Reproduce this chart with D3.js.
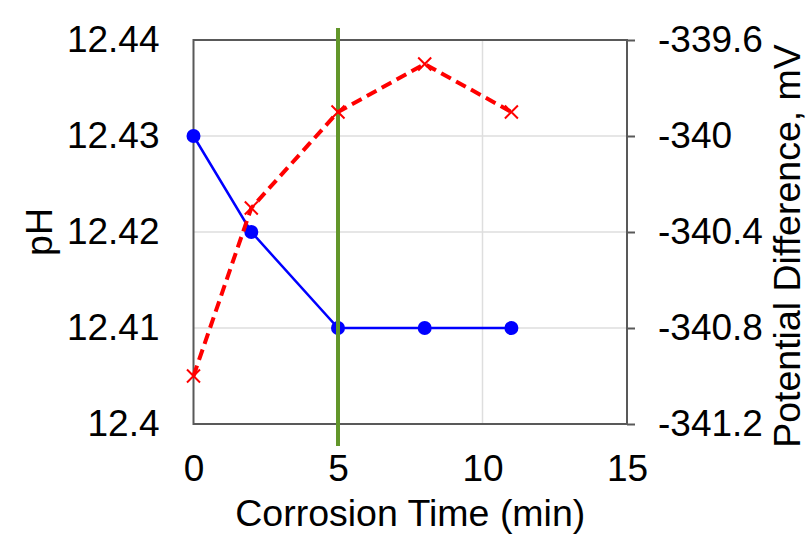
<!DOCTYPE html>
<html>
<head>
<meta charset="utf-8">
<script src="https://cdn.jsdelivr.net/npm/d3@7"></script>
<style>
  body { margin: 0; background: #fff; }
  text { font-family: "Liberation Sans", Arial, sans-serif; fill: #000; }
</style>
</head>
<body>
<div id="chart"></div>
<script>
// data
const times = [0, 2, 5, 8, 11];
const phValues = [12.43, 12.42, 12.41, 12.41, 12.41];
const potentialValues = [-341.0, -340.3, -339.9, -339.7, -339.9];
const xTicks = [0, 5, 10, 15];
const phTicks = [12.4, 12.41, 12.42, 12.43, 12.44];
const potTicks = [-341.2, -340.8, -340.4, -340, -339.6];
const markerTime = 5;

const width = 808, height = 534;
const margin = {top: 40, right: 181, bottom: 110, left: 193.5};
const innerW = width - margin.left - margin.right;
const innerH = height - margin.top - margin.bottom;

const frameColor = '#595959';
const gridColor = '#dedede';
const phColor = '#0000ff';
const potColor = '#ff0000';
const markerColor = '#62962a';

const svg = d3.select("#chart").append("svg")
    .attr("width", width)
    .attr("height", height);

const g = svg.append("g")
    .attr("transform", `translate(${margin.left},${margin.top})`);

const x = d3.scaleLinear().domain([0, 15]).range([0, innerW]);
const yL = d3.scaleLinear().domain([12.4, 12.44]).range([innerH, 0]);
const yR = d3.scaleLinear().domain([-341.2, -339.6]).range([innerH, 0]);

// grid
g.append("g").selectAll("line")
    .data(xTicks.slice(1, -1))
    .join("line")
    .attr("x1", d => x(d)).attr("x2", d => x(d))
    .attr("y1", 0).attr("y2", innerH)
    .attr("stroke", gridColor).attr("stroke-width", 1.5);
g.append("g").selectAll("line")
    .data(phTicks.slice(1, -1))
    .join("line")
    .attr("x1", 0).attr("x2", innerW)
    .attr("y1", d => yL(d)).attr("y2", d => yL(d))
    .attr("stroke", gridColor).attr("stroke-width", 1.5);

// axes
const xAxis = g.append("g")
    .attr("transform", `translate(0,${innerH})`)
    .call(d3.axisBottom(x).tickValues(xTicks).tickSize(0).tickPadding(31).tickFormat(d3.format("d")));
const leftAxis = g.append("g")
    .call(d3.axisLeft(yL).tickValues(phTicks).tickSize(0).tickPadding(34).tickFormat(d => String(+d.toFixed(2))));
const rightAxis = g.append("g")
    .attr("transform", `translate(${innerW},0)`)
    .call(d3.axisRight(yR).tickValues(potTicks).tickSize(8).tickPadding(23).tickFormat(d => String(+d.toFixed(1))));

[xAxis, leftAxis, rightAxis].forEach(a => {
    a.select(".domain").remove();
    a.selectAll("text").attr("font-size", 37).attr("fill", "#000")
        .style("font-family", '"Liberation Sans", Arial, sans-serif');
    a.selectAll("line").attr("stroke", frameColor).attr("stroke-width", 2);
});
xAxis.selectAll("text").attr("dy", "0.71em");

// frame
g.append("rect")
    .attr("width", innerW).attr("height", innerH)
    .attr("fill", "none")
    .attr("stroke", frameColor).attr("stroke-width", 2);

// pH series (blue)
const phData = times.map((t, i) => ({t, v: phValues[i]}));
g.append("path")
    .datum(phData)
    .attr("fill", "none")
    .attr("stroke", phColor).attr("stroke-width", 2.5)
    .attr("d", d3.line().x(d => x(d.t)).y(d => yL(d.v)));
g.append("g").selectAll("circle")
    .data(phData)
    .join("circle")
    .attr("cx", d => x(d.t)).attr("cy", d => yL(d.v))
    .attr("r", 7)
    .attr("fill", phColor);

// vertical marker at 5 min
g.append("line")
    .attr("x1", x(markerTime)).attr("x2", x(markerTime))
    .attr("y1", -12).attr("y2", innerH + 22)
    .attr("stroke", markerColor).attr("stroke-width", 4);

// potential series (red dashed)
const potData = times.map((t, i) => ({t, v: potentialValues[i]}));
g.append("path")
    .datum(potData)
    .attr("fill", "none")
    .attr("stroke", potColor).attr("stroke-width", 4)
    .attr("stroke-dasharray", "11,6")
    .attr("d", d3.line().x(d => x(d.t)).y(d => yR(d.v)));
const cross = 6.5;
const crosses = g.append("g").selectAll("g")
    .data(potData)
    .join("g")
    .attr("transform", d => `translate(${x(d.t)},${yR(d.v)})`);
crosses.append("path")
    .attr("d", `M${-cross},${-cross}L${cross},${cross}M${-cross},${cross}L${cross},${-cross}`)
    .attr("stroke", potColor).attr("stroke-width", 2);

// axis titles
svg.append("text")
    .attr("x", margin.left + innerW / 2)
    .attr("y", 526)
    .attr("text-anchor", "middle")
    .attr("font-size", 37.5)
    .text("Corrosion Time (min)");
svg.append("text")
    .attr("transform", `translate(52,${margin.top + innerH / 2}) rotate(-90)`)
    .attr("text-anchor", "middle")
    .attr("font-size", 37.5)
    .text("pH");
svg.append("text")
    .attr("transform", `translate(800,246) rotate(-90)`)
    .attr("text-anchor", "middle")
    .attr("font-size", 37.5)
    .text("Potential Difference, mV");
</script>
</body>
</html>
